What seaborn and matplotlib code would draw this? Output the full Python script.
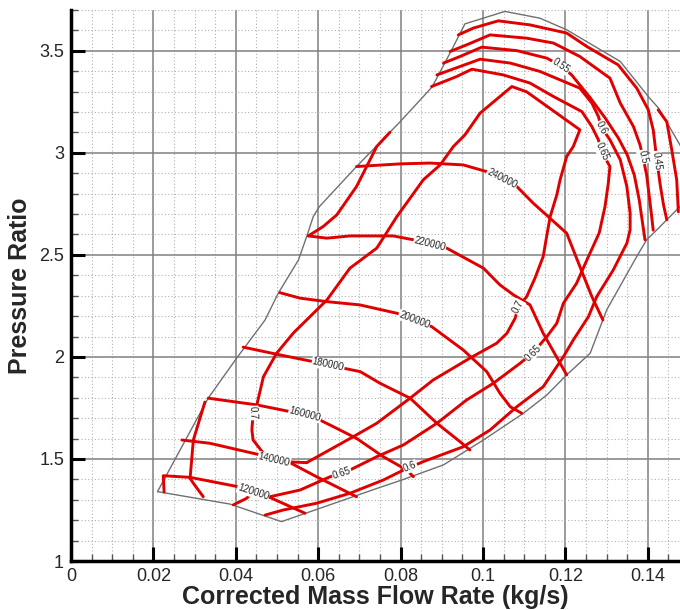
import matplotlib
matplotlib.use("Agg")
import matplotlib.pyplot as plt
import seaborn as sns
from matplotlib.ticker import MultipleLocator, FuncFormatter

# ---- map boundary (surge line, top, choke side, bottom) ----
edge_x = [0.0210, 0.0333, 0.0402, 0.0471, 0.0503, 0.0552, 0.0572, 0.0588, 0.0603, 0.0693,
          0.0774, 0.0799, 0.0876, 0.0892, 0.0924, 0.0956, 0.1053, 0.1138, 0.1203, 0.1333,
          0.1401, 0.1426, 0.1527, 0.1478, 0.1446, 0.1422, 0.1397, 0.1373, 0.1300, 0.1260,
          0.1203, 0.1155, 0.1098, 0.1001, 0.0904, 0.0803, 0.0750, 0.0511, 0.0386, 0.0210]
edge_y = [1.340, 1.798, 1.994, 2.181, 2.312, 2.475, 2.590, 2.688, 2.737, 2.933,
          3.101, 3.153, 3.322, 3.382, 3.505, 3.632, 3.693, 3.660, 3.603, 3.448,
          3.276, 3.219, 2.868, 2.737, 2.672, 2.623, 2.574, 2.492, 2.230, 2.018,
          1.912, 1.814, 1.724, 1.593, 1.471, 1.397, 1.361, 1.193, 1.279, 1.340]

# ---- speed lines (rpm) ----
n120_x = [0.0226, 0.0224, 0.0289, 0.0406, 0.0479, 0.0568]
n120_y = [1.338, 1.418, 1.410, 1.364, 1.315, 1.234]
n140_x = [0.0269, 0.0337, 0.0459, 0.0527, 0.0596, 0.0693]
n140_y = [1.593, 1.577, 1.520, 1.487, 1.413, 1.315]
n160_x = [0.0333, 0.0451, 0.0532, 0.0604, 0.0637, 0.0693, 0.0758, 0.0815, 0.0831]
n160_y = [1.798, 1.765, 1.732, 1.691, 1.658, 1.601, 1.511, 1.446, 1.413]
n180_x = [0.0418, 0.0507, 0.0588, 0.0661, 0.0702, 0.0750, 0.0823, 0.0888, 0.0944, 0.0968]
n180_y = [2.048, 2.010, 1.977, 1.945, 1.928, 1.871, 1.798, 1.675, 1.585, 1.544]
n200_x = [0.0507, 0.0556, 0.0621, 0.0701, 0.0791, 0.0875, 0.0952, 0.1009, 0.1041, 0.1066, 0.1094]
n200_y = [2.315, 2.288, 2.271, 2.255, 2.214, 2.149, 2.034, 1.928, 1.822, 1.756, 1.724]
n220_x = [0.0576, 0.0621, 0.0677, 0.0782, 0.0831, 0.0912, 0.1001, 0.1041, 0.1074, 0.1114, 0.1146, 0.1203]
n220_y = [2.593, 2.582, 2.593, 2.593, 2.574, 2.533, 2.435, 2.353, 2.304, 2.255, 2.116, 1.912]
n240_x = [0.0693, 0.0799, 0.0871, 0.0952, 0.1009, 0.1082, 0.1122, 0.1158, 0.1203, 0.1235, 0.1264, 0.1291]
n240_y = [2.933, 2.946, 2.950, 2.941, 2.908, 2.835, 2.753, 2.688, 2.606, 2.443, 2.296, 2.181]

# ---- efficiency contours ----
e45_x = [0.0940, 0.0976, 0.1037, 0.1114, 0.1203, 0.1252, 0.1328, 0.1373, 0.1401, 0.1413,
         0.1422, 0.1430, 0.1438, 0.1446]
e45_y = [3.578, 3.611, 3.647, 3.627, 3.587, 3.521, 3.431, 3.317, 3.211, 3.113,
         2.961, 2.843, 2.745, 2.672]
e50_x = [0.0920, 0.0960, 0.1017, 0.1106, 0.1171, 0.1235, 0.1308, 0.1333, 0.1365, 0.1381,
         0.1388, 0.1397, 0.1403, 0.1408, 0.1413]
e50_y = [3.497, 3.529, 3.578, 3.562, 3.538, 3.472, 3.366, 3.244, 3.129, 3.039,
         2.980, 2.892, 2.794, 2.711, 2.621]
e55_x = [0.0904, 0.0944, 0.0997, 0.1082, 0.1155, 0.1189, 0.1215, 0.1260, 0.1296, 0.1328,
         0.1350, 0.1367, 0.1379, 0.1386, 0.1393]
e55_y = [3.440, 3.472, 3.518, 3.501, 3.464, 3.426, 3.382, 3.270, 3.172, 3.074,
         2.990, 2.892, 2.770, 2.672, 2.574]
e60_x = [0.0888, 0.0944, 0.0993, 0.1066, 0.1138, 0.1235, 0.1264, 0.1280, 0.1288, 0.1308,
         0.1333, 0.1349, 0.1357, 0.1357, 0.1349, 0.1316, 0.1276, 0.1256, 0.1219, 0.1195,
         0.1146, 0.1082, 0.1017, 0.0952, 0.0855, 0.0807, 0.0758, 0.0677, 0.0596, 0.0515, 0.0471]
e60_y = [3.382, 3.423, 3.459, 3.440, 3.399, 3.317, 3.244, 3.178, 3.123, 3.064,
         2.966, 2.835, 2.704, 2.623, 2.557, 2.426, 2.296, 2.198, 2.083, 2.001,
         1.854, 1.756, 1.642, 1.560, 1.487, 1.446, 1.397, 1.332, 1.283, 1.250, 1.225]
e65_x = [0.0875, 0.0936, 0.0973, 0.1049, 0.1114, 0.1171, 0.1240, 0.1264, 0.1280, 0.1288,
         0.1308, 0.1304, 0.1296, 0.1282, 0.1252, 0.1227, 0.1195, 0.1179, 0.1155, 0.1121,
         0.1090, 0.1025, 0.0960, 0.0888, 0.0807, 0.0742, 0.0677, 0.0629, 0.0556, 0.0483,
         0.0439, 0.0426, 0.0394]
e65_y = [3.325, 3.374, 3.410, 3.382, 3.342, 3.276, 3.202, 3.129, 3.064, 3.005,
         2.933, 2.851, 2.737, 2.608, 2.475, 2.361, 2.263, 2.165, 2.100, 2.020,
         1.969, 1.871, 1.789, 1.675, 1.569, 1.511, 1.446, 1.413, 1.348, 1.315,
         1.332, 1.307, 1.275]
e70_x = [0.0572, 0.0515, 0.0467, 0.0442, 0.0439, 0.0442, 0.0451, 0.0467, 0.0499, 0.0540,
         0.0621, 0.0677, 0.0742, 0.0791, 0.0855, 0.0896, 0.0928, 0.0956, 0.0993, 0.1070,
         0.1106, 0.1235, 0.1219, 0.1203, 0.1187, 0.1179, 0.1163, 0.1155, 0.1146, 0.1126,
         0.1106, 0.1085, 0.1078, 0.1058, 0.1033, 0.0968, 0.0879, 0.0823, 0.0742, 0.0685, 0.0572]
e70_y = [1.482, 1.487, 1.528, 1.593, 1.642, 1.725, 1.765, 1.903, 2.018, 2.118,
         2.279, 2.435, 2.533, 2.688, 2.868, 2.941, 3.031, 3.088, 3.195, 3.325,
         3.299, 3.113, 3.031, 2.982, 2.868, 2.794, 2.688, 2.598, 2.492, 2.386,
         2.296, 2.245, 2.190, 2.116, 2.067, 1.994, 1.887, 1.798, 1.675, 1.609, 1.482]
# unlabelled contour pieces
ea_x = [0.0576, 0.0612, 0.0645, 0.0693, 0.0742, 0.0774]
ea_y = [2.593, 2.639, 2.696, 2.835, 3.031, 3.101]
eb_x = [0.0325, 0.0297, 0.0289, 0.0297, 0.0321]
eb_y = [1.779, 1.593, 1.405, 1.381, 1.315]
ec_x = [0.1425, 0.1446, 0.1458, 0.1470, 0.1474]
ec_y = [3.211, 3.152, 3.015, 2.868, 2.711]

# ---- in-line labels: text, x, y, angle ----
lab_text = ["120000", "140000", "160000", "180000", "200000", "220000", "240000",
            "0.45", "0.5", "0.55", "0.6", "0.6", "0.65", "0.65", "0.65", "0.7", "0.7"]
lab_x = [0.0442, 0.0493, 0.0568, 0.0624, 0.0833, 0.0871, 0.1046,
         0.1422, 0.1388, 0.1189, 0.1288, 0.0823, 0.1288, 0.1121, 0.0657, 0.0442, 0.1085]
lab_y = [1.338, 1.495, 1.721, 1.961, 2.181, 2.554, 2.873,
         2.961, 2.980, 3.426, 3.123, 1.461, 3.005, 2.020, 1.430, 1.725, 2.245]
lab_rot = [-18, -13, -15, -12, -21, -14, -27,
           -83, -77, -34, -63, 22, -66, 45, 18, -88, 62]

sns.set_style("white")
plt.rcParams["font.family"] = ["Liberation Sans", "DejaVu Sans"]

fig = plt.figure(figsize=(6.8, 6.1), dpi=100)
ax = fig.add_axes([0.1044, 0.0803, 0.8956, 0.9033])

red = "#e00000"
sns.lineplot(x=edge_x, y=edge_y, sort=False, estimator=None, color="#707070", lw=1.0, ax=ax, zorder=3)
lines = [(n120_x, n120_y), (n140_x, n140_y), (n160_x, n160_y), (n180_x, n180_y),
         (n200_x, n200_y), (n220_x, n220_y), (n240_x, n240_y),
         (e45_x, e45_y), (e50_x, e50_y), (e55_x, e55_y), (e60_x, e60_y),
         (e65_x, e65_y), (e70_x, e70_y), (ea_x, ea_y), (eb_x, eb_y), (ec_x, ec_y)]
for lx, ly in lines:
    sns.lineplot(x=lx, y=ly, sort=False, estimator=None, color=red, lw=2.1, ax=ax, zorder=4)

for t, x, y, r in zip(lab_text, lab_x, lab_y, lab_rot):
    ax.text(x, y, t, rotation=r, rotation_mode="anchor", ha="center", va="center",
            fontsize=7, color="#222222", zorder=6,
            bbox=dict(facecolor="white", edgecolor="none", pad=0.4))

ax.set_xlim(0, 0.1478)
ax.set_ylim(1, 3.70)
ax.xaxis.set_major_locator(MultipleLocator(0.02))
ax.xaxis.set_minor_locator(MultipleLocator(0.005))
ax.yaxis.set_major_locator(MultipleLocator(0.5))
ax.yaxis.set_minor_locator(MultipleLocator(0.1))
ax.xaxis.set_major_formatter(FuncFormatter(lambda v, p: "%g" % round(v, 3)))
ax.yaxis.set_major_formatter(FuncFormatter(lambda v, p: "%g" % round(v, 2)))

ax.grid(which="major", color="#808080", lw=1.1, ls="-", zorder=1)
ax.grid(which="minor", color="#b0b0b0", lw=0.8, ls=(0, (1, 2)), zorder=1)
ax.set_axisbelow(True)

ax.tick_params(which="major", direction="in", length=10, width=2.2, labelsize=13,
               color="black", bottom=True, left=True, top=False, right=False, pad=5)
ax.tick_params(which="minor", direction="in", length=5, width=1,
               color="#555555", bottom=True, left=True, top=False, right=False)
for side in ["top", "right"]:
    ax.spines[side].set_visible(False)
for side in ["left", "bottom"]:
    ax.spines[side].set_linewidth(2.5)
    ax.spines[side].set_color("black")

ax.set_xlabel("Corrected Mass Flow Rate (kg/s)", fontsize=18, fontweight="bold", labelpad=0)
ax.set_ylabel("Pressure Ratio", fontsize=18, fontweight="bold", labelpad=5)

fig.savefig("out.png", dpi=100)
